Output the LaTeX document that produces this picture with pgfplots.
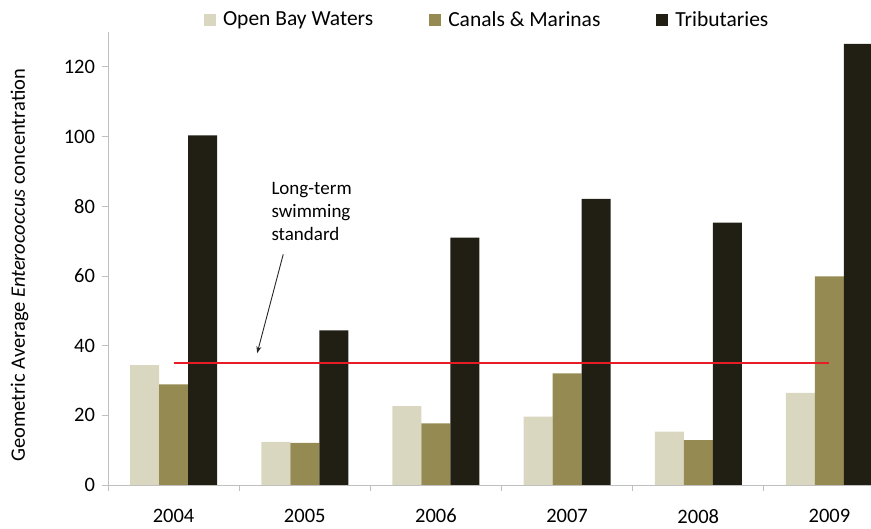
\documentclass[border=0pt]{standalone}
\usepackage{pgfplots}
\pgfplotsset{compat=1.18}
\usepackage{fontspec}
\setmainfont{Carlito}
\usetikzlibrary{arrows.meta}
\definecolor{openbay}{RGB}{218,215,193}
\definecolor{canals}{RGB}{149,139,82}
\definecolor{trib}{RGB}{33,30,20}
\definecolor{axgray}{RGB}{191,191,191}
\definecolor{stdred}{RGB}{232,28,36}
\pgfplotsset{sqleg/.style={legend image code/.code={\fill[##1] (0pt,-6pt) rectangle (12pt,6pt);}}}
\begin{document}
\fontsize{20.5}{24}\selectfont
\begin{tikzpicture}
\useasboundingbox (-108pt,-44pt) rectangle (763pt,485pt);
\begin{axis}[
  scale only axis,
  width=763pt, height=453pt,
  xmin=-0.5, xmax=5.317,
  ymin=0, ymax=130,
  axis lines=left,
  axis line style={-, draw=axgray, line width=0.8pt},
  tick align=outside,
  major tick length=6pt,
  tick style={draw=axgray, line width=0.8pt},
  xtick={-0.5,0.5,1.5,2.5,3.5,4.5},
  xticklabels={},
  extra x ticks={0,1,2,3,4,5},
  extra x tick labels={2004,2005,2006,2007,2008,2009},
  extra x tick style={major tick length=0pt, xticklabel style={yshift=-17pt}},
  ytick={0,20,40,60,80,100,120},
  yticklabel style={xshift=0pt},
  /pgf/number format/assume math mode=true,
  ylabel={Geometric Average \textit{Enterococcus} concentration},
  ylabel style={at={(axis description cs:-0.116,0.485)}, anchor=center},
  legend style={draw=none, fill=none, at={(axis description cs:0.497,1.026)}, anchor=center,
    font=\fontsize{21.5}{24}\selectfont,
    legend columns=3, /tikz/every even column/.append style={column sep=54pt},
    /tikz/every odd column/.append style={column sep=5pt}},
  clip=true,
]
\addplot[ybar, bar width=29pt, bar shift=-29pt, fill=openbay, draw=none, sqleg]
  coordinates {(0,34.4) (1,12.4) (2,22.6) (3,19.6) (4,15.3) (5,26.4)};
\addlegendentry{Open Bay Waters}
\addplot[ybar, bar width=29pt, bar shift=0pt, fill=canals, draw=none, sqleg]
  coordinates {(0,28.9) (1,12.1) (2,17.7) (3,32.0) (4,12.9) (5,59.9)};
\addlegendentry{Canals \& Marinas}
\addplot[ybar, bar width=29pt, bar shift=29pt, fill=trib, draw=none, sqleg]
  coordinates {(0,100.3) (1,44.4) (2,71.0) (3,82.1) (4,75.3) (5,126.6)};
\addlegendentry{Tributaries}
\addplot[stdred, line width=1.6pt, no marks, forget plot]
  coordinates {(0,35) (5,35)};
\node[align=left, anchor=north west, inner sep=0pt, font=\fontsize{19}{23}\selectfont]
  at (axis cs:0.745,87.0) {Long-term\\swimming\\standard};
\draw[-{Stealth[length=7pt,width=5pt]}, line width=0.9pt, black!85]
  (axis cs:0.836,66.2) -- (axis cs:0.637,37.8);
\end{axis}
\end{tikzpicture}
\end{document}
